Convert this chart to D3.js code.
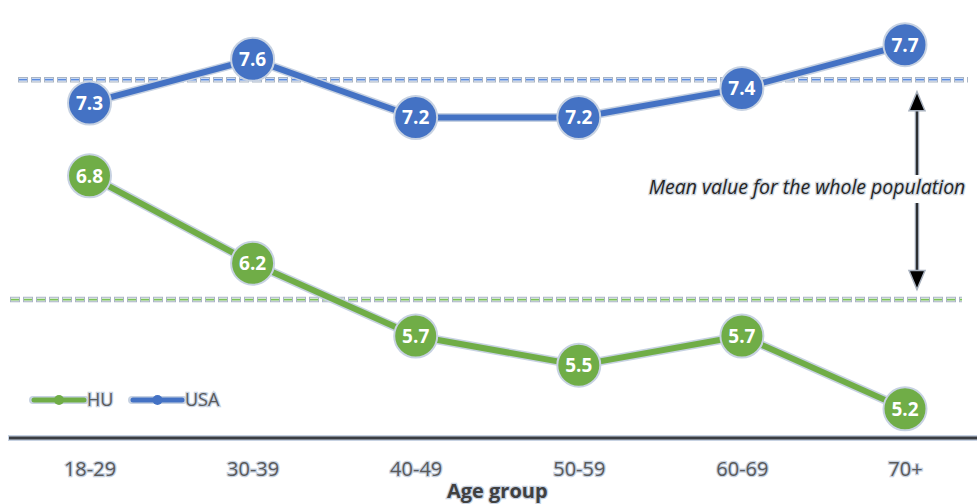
<!DOCTYPE html>
<html>
<head>
<meta charset="utf-8">
<script src="https://cdn.jsdelivr.net/npm/d3@7"></script>
<style>
  html, body { margin: 0; padding: 0; background: #fff; }
  svg { display: block; }
</style>
</head>
<body>
<svg id="chart" width="977" height="504"></svg>
<script>
// Age groups on the horizontal axis
const categories = ["18-29", "30-39", "40-49", "50-59", "60-69", "70+"];
// Mean score per age group
const huValues  = [6.8, 6.2, 5.7, 5.5, 5.7, 5.2];
const usaValues = [7.3, 7.6, 7.2, 7.2, 7.4, 7.7];
// Mean over the whole population of each country
const huMean = 5.95;
const usaMean = 7.46;
const seriesNames = ["HU", "USA"];
const yDomain = [5, 8];

const colors = { HU: "#70AD47", USA: "#4472C4" };
const meanColors = { HU: "#7cc257", USA: "#5a8be0" };
const halo = "#c7d2e2";

const svg = d3.select("#chart");
const width = 977, height = 504;

const x = d3.scalePoint().domain(categories).range([89.5, 905]);
const y = d3.scaleLinear().domain(yDomain).range([438, 1]);

const series = [
  { name: "HU", values: huValues, mean: huMean },
  { name: "USA", values: usaValues, mean: usaMean }
];

// Dashed mean lines (outlined dashes)
const meanExtent = { USA: [18, 968], HU: [10, 962] };
const meanG = svg.append("g");
series.forEach(s => {
  const [x0, x1] = meanExtent[s.name];
  const yy = y(s.mean);
  meanG.append("line")
    .attr("x1", x0).attr("x2", x1).attr("y1", yy).attr("y2", yy)
    .attr("stroke", "#aab5c4").attr("stroke-width", 5.5)
    .attr("stroke-dasharray", "10 3");
  meanG.append("line")
    .attr("x1", x0 + 1).attr("x2", x1).attr("y1", yy).attr("y2", yy)
    .attr("stroke", "#eef2f8").attr("stroke-width", 3.5)
    .attr("stroke-dasharray", "8 5");
  meanG.append("line")
    .attr("x1", x0 + 1).attr("x2", x1).attr("y1", yy).attr("y2", yy)
    .attr("stroke", meanColors[s.name]).attr("stroke-width", 1.8)
    .attr("stroke-dasharray", "8 5");
});

// X axis baseline and tick labels
const xAxis = d3.axisBottom(x).tickSize(0).tickPadding(20);
const axisG = svg.append("g")
  .attr("transform", `translate(0,${y(yDomain[0])})`)
  .call(xAxis);
axisG.select(".domain").remove();
axisG.insert("line", ":first-child")
  .attr("x1", 8).attr("x2", width).attr("y1", 0).attr("y2", 0)
  .attr("stroke", halo).attr("stroke-width", 6);
axisG.insert("line", ".tick")
  .attr("x1", 9).attr("x2", width).attr("y1", 0).attr("y2", 0)
  .attr("stroke", "#3a3d42").attr("stroke-width", 3);
axisG.selectAll(".tick text")
  .attr("font-family", "'Open Sans', sans-serif")
  .attr("font-size", 20)
  .attr("fill", "#5a5a5a")
  .attr("stroke", halo).attr("stroke-width", 2.5)
  .attr("paint-order", "stroke")
  .attr("dy", "0.9em");

// Axis title
svg.append("text")
  .attr("x", (x(categories[0]) + x(categories[categories.length - 1])) / 2)
  .attr("y", 498)
  .attr("text-anchor", "middle")
  .attr("font-family", "'Open Sans', sans-serif")
  .attr("font-weight", 700)
  .attr("font-size", 20)
  .attr("fill", "#404040")
  .attr("stroke", halo).attr("stroke-width", 2.5)
  .attr("paint-order", "stroke")
  .text("Age group");

// Arrow annotation between the two mean lines
const arrowX = 917;
const annG = svg.append("g");
const arrowTop = y(usaMean) + 12, arrowBottom = y(huMean) - 10;
function shaft(y1, y2) {
  annG.append("line").attr("x1", arrowX).attr("x2", arrowX).attr("y1", y1).attr("y2", y2)
    .attr("stroke", "#9aa3b0").attr("stroke-width", 4.5);
  annG.append("line").attr("x1", arrowX).attr("x2", arrowX).attr("y1", y1).attr("y2", y2)
    .attr("stroke", "#111").attr("stroke-width", 1.6);
}
shaft(arrowTop + 16, 175);
shaft(203, arrowBottom - 16);
annG.append("path")
  .attr("d", `M${arrowX},${arrowTop} L${arrowX - 8},${arrowTop + 19} L${arrowX + 8},${arrowTop + 19} Z`)
  .attr("fill", "#000").attr("stroke", "#a8b1be").attr("stroke-width", 1.5);
annG.append("path")
  .attr("d", `M${arrowX},${arrowBottom} L${arrowX - 8},${arrowBottom - 19} L${arrowX + 8},${arrowBottom - 19} Z`)
  .attr("fill", "#000").attr("stroke", "#a8b1be").attr("stroke-width", 1.5);
annG.append("text")
  .attr("x", 807).attr("y", 194)
  .attr("text-anchor", "middle")
  .attr("font-family", "'Open Sans', sans-serif")
  .attr("font-style", "italic")
  .attr("font-size", 19.5)
  .attr("fill", "#262626")
  .attr("stroke", "#d0d6de").attr("stroke-width", 2.5)
  .attr("paint-order", "stroke")
  .text("Mean value for the whole population");

// Series lines with markers and value labels
const line = d3.line()
  .x((d, i) => x(categories[i]))
  .y(d => y(d));

series.forEach(s => {
  const g = svg.append("g");
  g.append("path").datum(s.values)
    .attr("d", line).attr("fill", "none")
    .attr("stroke", halo).attr("stroke-width", 9)
    .attr("stroke-linejoin", "round");
  g.append("path").datum(s.values)
    .attr("d", line).attr("fill", "none")
    .attr("stroke", colors[s.name]).attr("stroke-width", 6)
    .attr("stroke-linejoin", "round");
  const pts = g.selectAll("g.pt").data(s.values).join("g")
    .attr("class", "pt")
    .attr("transform", (d, i) => `translate(${x(categories[i])},${y(d)})`);
  pts.append("circle")
    .attr("r", 21.5)
    .attr("fill", colors[s.name])
    .attr("stroke", halo).attr("stroke-width", 2);
  pts.append("text")
    .attr("text-anchor", "middle")
    .attr("dy", "0.36em")
    .attr("font-family", "'Open Sans', sans-serif")
    .attr("font-weight", 700)
    .attr("font-size", 19)
    .attr("fill", "#fff")
    .text(d => d3.format(".1f")(d));
});

// Legend
const legend = svg.append("g").attr("transform", "translate(0,400)");
const legendItems = [
  { name: "HU", x0: 33, x1: 85, tx: 87 },
  { name: "USA", x0: 132, x1: 183, tx: 185 }
];
legendItems.forEach(it => {
  legend.append("line").attr("x1", it.x0).attr("x2", it.x1)
    .attr("stroke", halo).attr("stroke-width", 8).attr("stroke-linecap", "round");
  legend.append("line").attr("x1", it.x0 + 1).attr("x2", it.x1 - 1)
    .attr("stroke", colors[it.name]).attr("stroke-width", 5).attr("stroke-linecap", "round");
  legend.append("circle").attr("cx", (it.x0 + it.x1) / 2).attr("r", 5)
    .attr("fill", colors[it.name]);
  legend.append("text")
    .attr("x", it.tx).attr("y", 0).attr("dy", "0.35em")
    .attr("font-family", "'Open Sans', sans-serif")
    .attr("font-size", 18)
    .attr("fill", "#5a5a5a")
    .attr("stroke", halo).attr("stroke-width", 2.5)
    .attr("paint-order", "stroke")
    .text(it.name);
});
</script>
</body>
</html>
